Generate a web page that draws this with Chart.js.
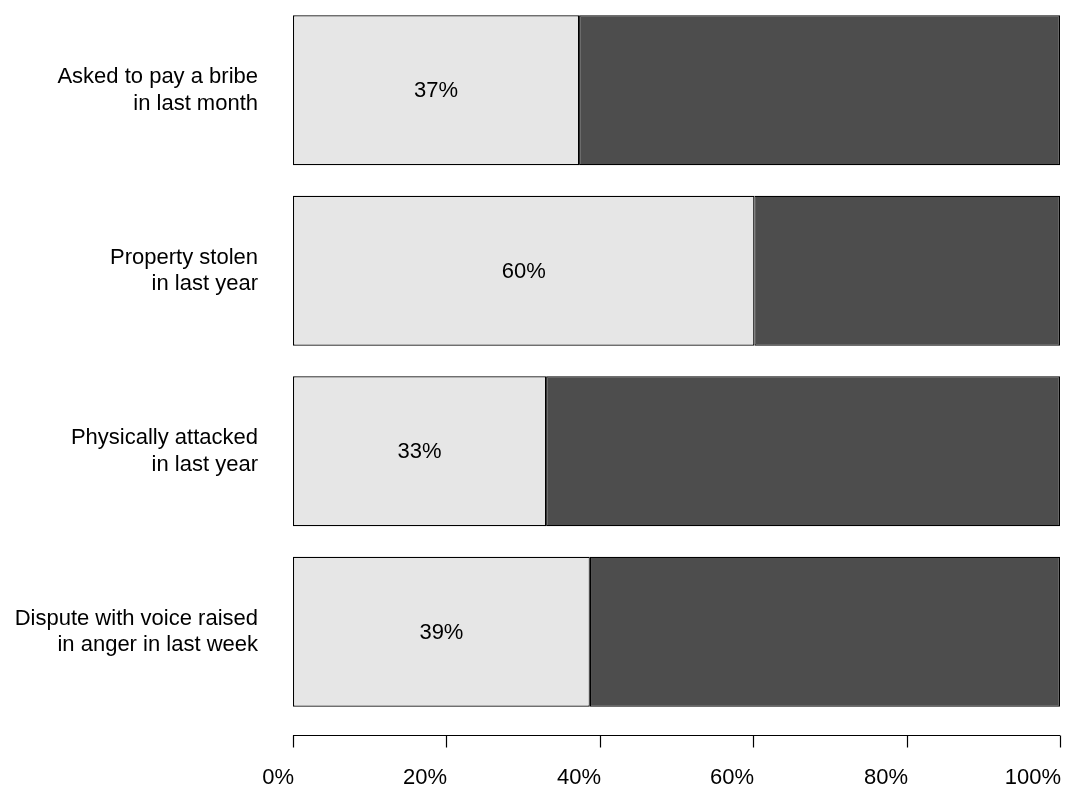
<!DOCTYPE html>
<html>
<head>
<meta charset="utf-8">
<script src="https://cdn.jsdelivr.net/npm/chart.js@4"></script>
<style>
html,body{margin:0;padding:0;background:#fff;}
#wrap{width:1067px;height:790px;position:relative;}
</style>
</head>
<body>
<div id="wrap"><canvas id="c" width="1067" height="790"></canvas></div>
<script>
const categories = [
  ["Asked to pay a bribe", "in last month"],
  ["Property stolen", "in last year"],
  ["Physically attacked", "in last year"],
  ["Dispute with voice raised", "in anger in last week"]
];
const yesValues = [37.3, 60.15, 33.0, 38.7];
const valueLabels = ["37%", "60%", "33%", "39%"];
const noValues = yesValues.map(v => 100 - v);
const tickValues = [0, 20, 40, 60, 80, 100];
const tickLabels = ["0%", "20%", "40%", "60%", "80%", "100%"];

const FONT = '"Liberation Sans", Arial, sans-serif';

const overlay = {
  id: 'overlay',
  afterDatasetsDraw(chart) {
    const ctx = chart.ctx;
    const xs = chart.scales.x;
    const ys = chart.scales.y;
    ctx.save();
    ctx.font = '22px ' + FONT;
    ctx.fillStyle = '#000';
    ctx.textAlign = 'center';
    ctx.textBaseline = 'middle';
    yesValues.forEach((v, i) => {
      const x = (xs.getPixelForValue(0) + xs.getPixelForValue(v)) / 2;
      const y = ys.getPixelForValue(i);
      ctx.fillText(valueLabels[i], x, y + 1);
    });
    const axisY = 735.5;
    ctx.strokeStyle = '#000';
    ctx.lineWidth = 1.2;
    ctx.beginPath();
    ctx.moveTo(xs.getPixelForValue(tickValues[0]), axisY);
    ctx.lineTo(xs.getPixelForValue(tickValues[tickValues.length - 1]), axisY);
    ctx.stroke();
    ctx.textAlign = 'right';
    ctx.textBaseline = 'alphabetic';
    tickValues.forEach((t, i) => {
      const x = Math.round(xs.getPixelForValue(t)) + 0.5;
      ctx.beginPath();
      ctx.moveTo(x, axisY);
      ctx.lineTo(x, axisY + 12);
      ctx.stroke();
      ctx.fillText(tickLabels[i], x + 0.5, 784);
    });
    ctx.restore();
  }
};

new Chart(document.getElementById('c'), {
  type: 'bar',
  data: {
    labels: categories,
    datasets: [
      { data: yesValues, backgroundColor: '#E6E6E6', borderColor: '#000', borderWidth: 1.2, borderSkipped: false,
        barPercentage: 150 / 180.5, categoryPercentage: 1 },
      { data: noValues, backgroundColor: '#4D4D4D', borderColor: '#000', borderWidth: 1.2, borderSkipped: false,
        barPercentage: 150 / 180.5, categoryPercentage: 1 }
    ]
  },
  options: {
    indexAxis: 'y',
    responsive: false,
    animation: false,
    devicePixelRatio: 1,
    layout: { padding: { top: 0, right: 7, bottom: 68, left: 0 } },
    plugins: { legend: { display: false }, tooltip: { enabled: false } },
    scales: {
      x: { stacked: true, min: 0, max: 100, display: false },
      y: {
        stacked: true,
        grid: { display: false, drawTicks: false, tickLength: 0 },
        border: { display: false },
        ticks: { color: '#000', font: { family: FONT, size: 22, lineHeight: 1.2 }, padding: 35 },
        afterFit(scale) {
          scale.width = 293;
          scale.paddingTop = 0;
          scale.paddingBottom = 0;
        }
      }
    }
  },
  plugins: [overlay]
});
</script>
</body>
</html>
